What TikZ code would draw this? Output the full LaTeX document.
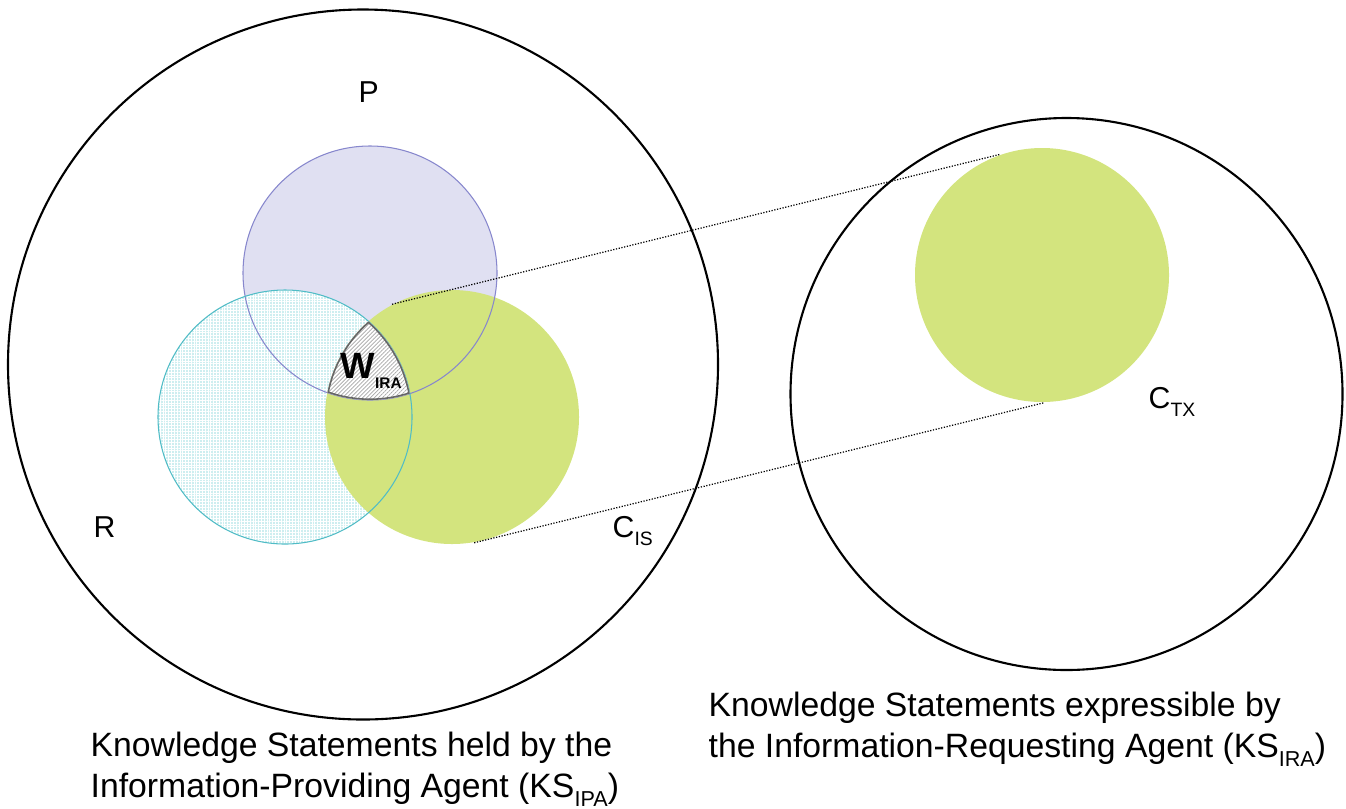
\documentclass[tikz,border=0pt]{standalone}
\usepackage{fontspec}
\setmainfont{Liberation Sans}
\usepackage{graphicx}
\usetikzlibrary{patterns,patterns.meta}

\definecolor{pfill}{RGB}{224,224,242}
\definecolor{pline}{RGB}{135,135,205}
\definecolor{rfill}{RGB}{206,238,240}
\definecolor{rline}{RGB}{80,188,198}
\definecolor{cfill}{RGB}{211,228,126}

% lowered, shrunk index after a letter
\newcommand{\lowidx}[1]{\raisebox{-0.27em}{\scalebox{0.64}{#1}}}

\tikzset{
  space/.style={circle, draw, line width=0.6pt, inner sep=0pt},
  topic/.style={circle, inner sep=0pt, minimum size=2.54cm},
  lbl/.style={anchor=base west, inner sep=0pt, font=\fontsize{8.6}{10}\selectfont},
  caption/.style={anchor=base west, inner sep=0pt, align=left, font=\fontsize{9.6}{11.4}\selectfont},
  link/.style={line width=0.35pt, dash pattern=on 0.35pt off 0.45pt},
}

\begin{document}
\begin{tikzpicture}
  \useasboundingbox (0,0) rectangle (13.46,-8.08);

  % the two knowledge spaces
  \draw (3.63,-3.645) node[space, minimum size=7.10cm] (ipa) {};
  \draw (10.665,-3.94) node[space, minimum size=5.52cm] (ira) {};

  % P, R and C_IS inside the providing agent, C_TX inside the requesting one
  \draw (3.70,-2.73) node[topic, fill=pfill] (p) {};
  \draw (2.85,-4.17) node[topic, fill=rfill] (r) {};
  \fill[pattern={Hatch[distance=0.8pt, line width=0.25pt]}, pattern color=white] (r.center) circle (1.27);
  \draw (4.52,-4.17) node[topic, fill=cfill] (cis) {};
  \draw (10.42,-2.75) node[topic, fill=cfill] (ctx) {};
  \draw[pline, line width=0.3pt] (p.center) circle (1.27);
  \draw[rline, line width=0.3pt] (r.center) circle (1.27);

  % W_IRA = P and R and C_IS
  \begin{scope}
    \clip (p.center) circle (1.27);
    \clip (r.center) circle (1.27);
    \clip (cis.center) circle (1.27);
    \fill[white] (cis.center) circle (1.27);
    \fill[pattern={Lines[angle=45, distance=0.8pt, line width=0.2pt]}, pattern color=gray!70] (cis.center) circle (1.27);
    \draw[gray!80!black, line width=0.9pt] (p.center) circle (1.27) (r.center) circle (1.27) (cis.center) circle (1.27);
  \end{scope}

  \draw (3.58,-1.02) node[lbl] (plbl) {P};
  \draw (0.93,-5.37) node[lbl] (rlbl) {R};
  \draw (6.12,-5.37) node[lbl] (cislbl) {C\lowidx{IS}};
  \draw (11.48,-4.08) node[lbl] (ctxlbl) {C\lowidx{TX}};
  \draw (3.40,-3.78) node[lbl, font=\fontsize{10.4}{11}\selectfont\bfseries] (w) {W\raisebox{-0.3em}{\scalebox{0.42}{IRA}}};

  \path[link] (cis.118) edge (ctx.109);
  \path[link] (cis.280) edge (ctx.271);

  \draw (0.90,-7.97) node[caption] (ipatext) {Knowledge Statements held by the\\Information-Providing Agent (KS\lowidx{IPA})};
  \draw (7.08,-7.57) node[caption] (iratext) {Knowledge Statements expressible by\\the Information-Requesting Agent (KS\lowidx{IRA})};
\end{tikzpicture}
\end{document}
